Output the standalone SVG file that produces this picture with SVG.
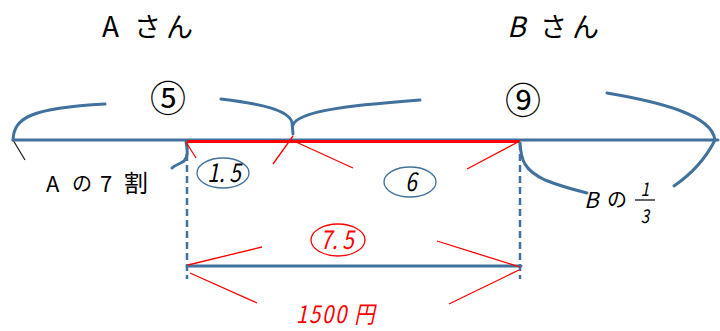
<svg xmlns="http://www.w3.org/2000/svg" width="720" height="331" viewBox="0 0 720 331">
<style>
.blue{fill:none;stroke:#41719C;stroke-width:3;stroke-linecap:round}
.dash{fill:none;stroke:#41719C;stroke-width:2.5;stroke-dasharray:7,4}
.rthin{fill:none;stroke:#FF0000;stroke-width:1.3}
.ell{fill:none;stroke:#41719C;stroke-width:1.3}
.t{font-family:"Noto Sans CJK JP","Liberation Sans",sans-serif;fill:#000}
.r{fill:#FF0000}
</style>
<rect width="720" height="331" fill="#fff"/>
<g id="connectors">
  <line x1="13" y1="140" x2="25" y2="160" stroke="#222" stroke-width="1.3"/>
  <line class="blue" x1="13" y1="140" x2="718" y2="140"/>
  <line x1="187" y1="141.5" x2="520" y2="141.5" stroke="#FF0000" stroke-width="3"/>
  <path class="blue" d="M13,140 C14,118 30,108 105,104"/>
  <path class="blue" d="M221,99 C262,104 288,110 292,122 L293,134"/>
  <path class="blue" d="M293,125 C298,112 340,106 420,100"/>
  <path class="blue" d="M607,93 C660,102 712,115 715,140 C705,160 690,175 674,186"/>
  <path class="blue" d="M186,142 C188,150 188,157 184,161 C180,164 175,165 172,168"/>
  <path class="blue" d="M520,143 C521,160 524,170 545,180 C560,186 575,190 587,193"/>
  <line class="dash" x1="187" y1="143" x2="187" y2="279"/>
  <line class="dash" x1="520" y1="143" x2="520" y2="279"/>
  <line class="blue" x1="187" y1="266" x2="521" y2="266"/>
  <line class="rthin" x1="186" y1="142" x2="196" y2="158"/>
  <line class="rthin" x1="293" y1="136" x2="273" y2="164"/>
  <line class="rthin" x1="296" y1="142" x2="353" y2="168"/>
  <line class="rthin" x1="518" y1="142" x2="467" y2="169"/>
  <line class="rthin" x1="188" y1="265" x2="262" y2="247"/>
  <line class="rthin" x1="520" y1="267" x2="437" y2="241"/>
  <line class="rthin" x1="190" y1="273" x2="257" y2="303"/>
  <line class="rthin" x1="519" y1="270" x2="449" y2="304"/>
</g>
<g id="labelA"><text class="t" x="102" y="37" font-size="28">A</text><text class="t" x="134" y="37" font-size="27" letter-spacing="5">さん</text></g>
<g id="labelB"><text class="t" x="507" y="37" font-size="28" font-style="italic">B</text><text class="t" x="540" y="37" font-size="27" letter-spacing="5">さん</text></g>
<g id="circ5"><text class="t" x="168" y="112" font-size="36" text-anchor="middle">⑤</text></g>
<g id="circ9"><text class="t" x="523" y="114" font-size="36" text-anchor="middle">⑨</text></g>
<g id="a70"><text class="t" x="46" y="192" font-size="22">A</text><text class="t" x="72" y="191" font-size="20">の</text><text class="t" x="100" y="192" font-size="22">7</text><text class="t" x="124" y="192" font-size="24">割</text></g>
<g id="n15">
  <ellipse class="ell" cx="223" cy="173" rx="26" ry="15"/>
  <text class="t" transform="translate(224,182) scale(0.8,1)" font-size="26" text-anchor="middle" font-style="italic">1. 5</text>
</g>
<g id="n6">
  <ellipse class="ell" cx="410" cy="182" rx="26" ry="15"/>
  <text class="t" transform="translate(411,191) scale(0.8,1)" font-size="26" text-anchor="middle" font-style="italic">6</text>
</g>
<g id="n75">
  <ellipse cx="338" cy="240" rx="27" ry="16" fill="none" stroke="#FF0000" stroke-width="1.3"/>
  <text class="t r" transform="translate(337,249) scale(0.8,1)" font-size="26" text-anchor="middle" font-style="italic">7. 5</text>
</g>
<g id="yen"><text class="t r" transform="translate(296,323) scale(0.85,1)" font-size="24" letter-spacing="2" font-style="italic">1500 円</text></g>
<g id="b13">
  <text class="t" x="584" y="208" font-size="22" font-style="italic">B</text>
  <text class="t" x="607" y="207" font-size="20">の</text>
  <text class="t" transform="translate(645,196) scale(0.8,1)" font-size="19" text-anchor="middle" font-style="italic">1</text>
  <line x1="635" y1="200" x2="655" y2="200" stroke="#000" stroke-width="1.2"/>
  <text class="t" transform="translate(645,223) scale(0.8,1)" font-size="19" text-anchor="middle" font-style="italic">3</text>
</g>
</svg>
